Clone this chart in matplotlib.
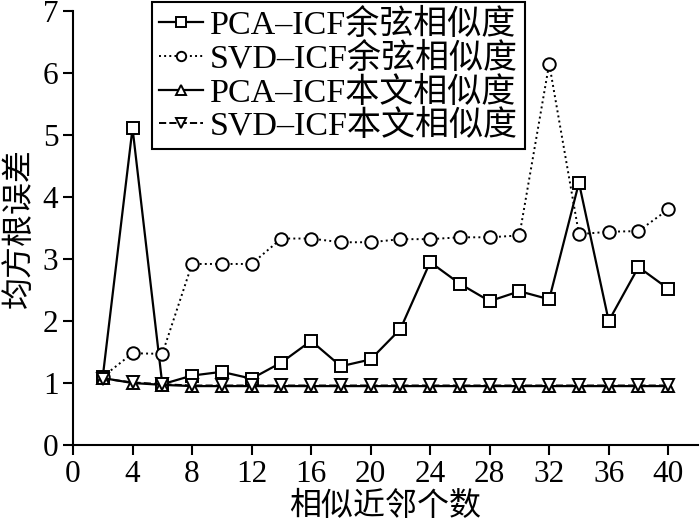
import matplotlib
matplotlib.use("Agg")
import matplotlib.pyplot as plt

plt.rcParams['font.family'] = ['Liberation Serif', 'Noto Sans CJK SC']

# neighbour counts
k = [2, 4, 6, 8, 10, 12, 14, 16, 18, 20, 22, 24, 26, 28, 30, 32, 34, 36, 38, 40]

pca_cos = [1.10, 5.11, 0.98, 1.12, 1.18, 1.07, 1.33, 1.68, 1.27, 1.38,
           1.87, 2.95, 2.60, 2.32, 2.48, 2.35, 4.23, 2.00, 2.87, 2.52]
svd_cos = [1.10, 1.48, 1.47, 2.92, 2.92, 2.92, 3.33, 3.33, 3.27, 3.27,
           3.32, 3.32, 3.35, 3.35, 3.38, 6.15, 3.40, 3.44, 3.45, 3.80]
pca_new = [1.08, 1.00, 0.97, 0.95, 0.95, 0.95, 0.95, 0.95, 0.95, 0.95,
           0.95, 0.95, 0.95, 0.95, 0.95, 0.95, 0.95, 0.95, 0.95, 0.95]
svd_new = [1.07, 1.01, 0.98, 0.96, 0.96, 0.96, 0.96, 0.96, 0.96, 0.96,
           0.96, 0.96, 0.96, 0.96, 0.96, 0.96, 0.96, 0.96, 0.96, 0.96]

names = ["PCA–ICF余弦相似度", "SVD–ICF余弦相似度", "PCA–ICF本文相似度", "SVD–ICF本文相似度"]

fig = plt.figure(figsize=(7, 5.25), dpi=100)
ax = fig.add_axes([73/700, 80/525, 625/700, 434/525])

style = dict(color='black', markerfacecolor='white', markeredgecolor='black',
             markersize=9, markeredgewidth=1.4)
ax.plot(k, pca_cos, '-', marker='s', lw=1.6, label=names[0], **style)
ax.plot(k, svd_cos, ':', marker='o', lw=1.4, label=names[1], **style)
ax.plot(k, pca_new, '-', marker='^', lw=1.6, label=names[2], **style)
ax.plot(k, svd_new, '--', marker='v', lw=1.4, label=names[3], **style)

ax.set_xlim(0, 42)
ax.set_ylim(0, 7)
ax.set_xticks(range(0, 41, 4))
ax.set_yticks(range(0, 8))
ax.tick_params(labelsize=22.5, width=1.5, length=7, direction='out')
for s in ['top', 'right']:
    ax.spines[s].set_visible(False)
for s in ['left', 'bottom']:
    ax.spines[s].set_linewidth(1.5)

ax.set_xlabel("相似近邻个数", fontsize=23, labelpad=2)
ax.set_ylabel("均方根误差", fontsize=23, labelpad=6)

leg = ax.legend(loc='upper left', bbox_to_anchor=(152/700, 1 - 2/525),
                bbox_transform=fig.transFigure, borderaxespad=0,
                fontsize=24.5, fancybox=False, edgecolor='black', framealpha=1,
                handlelength=1.3, handletextpad=0.2, labelspacing=0.05,
                borderpad=0.2, markerscale=0.75)
leg.get_frame().set_linewidth(1.5)

fig.savefig("out.png", dpi=100)
